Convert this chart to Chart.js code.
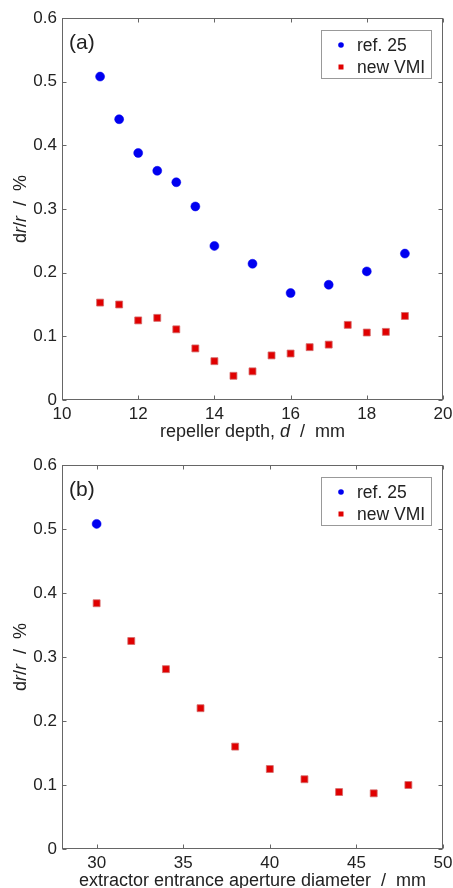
<!DOCTYPE html>
<html><head><meta charset="utf-8">
<script src="https://cdn.jsdelivr.net/npm/chart.js@4/dist/chart.umd.min.js"></script>
<style>
html,body{margin:0;padding:0;background:#fff;overflow:hidden;width:453px;height:888px}
.box{position:absolute;left:0;width:453px}
</style></head><body>
<div class="box" style="top:0;height:448px"><canvas id="c1"></canvas></div>
<div class="box" style="top:448px;height:440px"><canvas id="c2"></canvas></div>
<script>
// ---- data ----
const seriesNames = ['ref. 25', 'new VMI'];
const depthRefX = [11, 11.5, 12, 12.5, 13, 13.5, 14, 15, 16, 17, 18, 19];
const depthRefY = [0.508, 0.441, 0.388, 0.360, 0.342, 0.304, 0.242, 0.214, 0.168, 0.181, 0.202, 0.230];
const depthNewX = [11, 11.5, 12, 12.5, 13, 13.5, 14, 14.5, 15, 15.5, 16, 16.5, 17, 17.5, 18, 18.5, 19];
const depthNewY = [0.153, 0.150, 0.125, 0.129, 0.111, 0.081, 0.061, 0.038, 0.045, 0.070, 0.073, 0.083, 0.087, 0.118, 0.106, 0.107, 0.132];
const apRefX = [30];
const apRefY = [0.508];
const apNewX = [30, 32, 34, 36, 38, 40, 42, 44, 46, 48];
const apNewY = [0.384, 0.325, 0.281, 0.220, 0.160, 0.125, 0.109, 0.089, 0.087, 0.100];
const depthTicks = [10, 12, 14, 16, 18, 20];
const apTicks = [30, 35, 40, 45, 50];
const yTicks = [0, 0.1, 0.2, 0.3, 0.4, 0.5, 0.6];
const yTitle = [['d', 0], ['r', 1], ['/', 0], ['r', 1], ['  /  %', 0]];
const xTitleA = [['repeller depth, ', 0], ['d', 1], ['  /  mm', 0]];
const xTitleB = [['extractor entrance aperture diameter  /  mm', 0]];

const FONT = '"Liberation Sans", Arial, Helvetica, sans-serif';
const TXT = '#222';
const AX = '#666';
const BLUE = '#0000f0';
const RED = '#e00000';

function richWidth(ctx, parts, size) {
  let w = 0;
  for (const [t, it] of parts) { ctx.font = (it ? 'italic ' : '') + size + 'px ' + FONT; w += ctx.measureText(t).width; }
  return w;
}
function drawRich(ctx, parts, cx, cy, size, rot) {
  ctx.save();
  ctx.translate(cx, cy);
  if (rot) ctx.rotate(-Math.PI / 2);
  const w = richWidth(ctx, parts, size);
  let x = -w / 2;
  ctx.fillStyle = TXT; ctx.textBaseline = 'middle'; ctx.textAlign = 'left';
  for (const [t, it] of parts) {
    ctx.font = (it ? 'italic ' : '') + size + 'px ' + FONT;
    ctx.fillText(t, x, 0);
    x += ctx.measureText(t).width;
  }
  ctx.restore();
}

const frame = {
  id: 'frame',
  afterDraw(chart, args, o) {
    const {ctx, chartArea: a, scales: {x, y}} = chart;
    ctx.save();
    ctx.strokeStyle = AX; ctx.lineWidth = 1;
    const L = Math.round(a.left) + 0.5, R = Math.round(a.right) - 0.5, T = Math.round(a.top) + 0.5, B = Math.round(a.bottom) - 0.5;
    ctx.strokeRect(L, T, R - L, B - T);
    ctx.beginPath();
    for (const t of x.ticks) {
      const px = Math.round(x.getPixelForValue(t.value)) + 0.5;
      ctx.moveTo(px, B); ctx.lineTo(px, B - 4);
      ctx.moveTo(px, T); ctx.lineTo(px, T + 4);
    }
    for (const t of y.ticks) {
      const py = Math.round(y.getPixelForValue(t.value)) + 0.5;
      ctx.moveTo(L, py); ctx.lineTo(L + 4, py);
      ctx.moveTo(R, py); ctx.lineTo(R - 4, py);
    }
    ctx.stroke();
    // panel label
    ctx.fillStyle = TXT; ctx.font = '21px ' + FONT; ctx.textBaseline = 'middle'; ctx.textAlign = 'left';
    ctx.fillText(o.label, a.left + 7, a.top + 25);
    // axis titles
    drawRich(ctx, o.xTitle, (a.left + a.right) / 2, a.bottom + 32, 18, false);
    drawRich(ctx, yTitle, 21, (a.top + a.bottom) / 2, 18, true);
    // legend
    const bx = a.right - 122, by = a.top + 12, bw = 110, bh = 48;
    ctx.fillStyle = '#fff'; ctx.fillRect(bx, by, bw, bh);
    ctx.strokeStyle = '#999'; ctx.strokeRect(Math.round(bx) + 0.5, Math.round(by) + 0.5, bw, bh);
    chart.data.datasets.forEach((ds, i) => {
      const yy = by + 15 + i * 22;
      ctx.fillStyle = ds.backgroundColor;
      if (ds.pointStyle === 'circle') { ctx.beginPath(); ctx.arc(bx + 20, yy, 2.8, 0, Math.PI * 2); ctx.fill(); }
      else ctx.fillRect(bx + 17.5, yy - 2.5, 5, 5);
      ctx.fillStyle = TXT; ctx.font = '17.5px ' + FONT;
      ctx.fillText(ds.label, bx + 36, yy + 1);
    });
    ctx.restore();
  }
};

function makeChart(id, rx, ry, nx, ny, xmin, xmax, xticks, xTitle, label, padTop, xH) {
  const pts = (xs, ys) => xs.map((v, i) => ({x: v, y: ys[i]}));
  return new Chart(document.getElementById(id), {
    type: 'scatter',
    data: {
      datasets: [
        {label: seriesNames[0], data: pts(rx, ry), pointStyle: 'circle', pointRadius: 4.5, backgroundColor: BLUE, borderColor: BLUE, borderWidth: 0.5},
        {label: seriesNames[1], data: pts(nx, ny), pointStyle: 'rect', pointRadius: 4.9, backgroundColor: RED, borderColor: '#d46a6a', borderWidth: 0.8}
      ]
    },
    options: {
      responsive: true, maintainAspectRatio: false, animation: false,
      layout: {padding: {top: padTop, right: 10, left: 0, bottom: 0}},
      plugins: {legend: {display: false}, tooltip: {enabled: false}, frame: {label: label, xTitle: xTitle}},
      scales: {
        x: {
          type: 'linear', min: xmin, max: xmax,
          afterBuildTicks: s => { s.ticks = xticks.map(v => ({value: v})); },
          afterFit: s => { s.height = xH; s.paddingLeft = 0; s.paddingRight = 0; },
          grid: {display: false, drawTicks: false}, border: {display: false},
          ticks: {padding: 4, color: TXT, font: {family: FONT, size: 17}, maxRotation: 0, autoSkip: false}
        },
        y: {
          type: 'linear', min: 0, max: 0.6,
          afterBuildTicks: s => { s.ticks = yTicks.map(v => ({value: v})); },
          afterFit: s => { s.width = 62; s.paddingTop = 0; s.paddingBottom = 0; },
          grid: {display: false, drawTicks: false}, border: {display: false},
          ticks: {padding: 5, color: TXT, font: {family: FONT, size: 17}, autoSkip: false}
        }
      }
    },
    plugins: [frame]
  });
}

makeChart('c1', depthRefX, depthRefY, depthNewX, depthNewY, 10, 20, depthTicks, xTitleA, '(a)', 18, 48);
makeChart('c2', apRefX, apRefY, apNewX, apNewY, 28, 50, apTicks, xTitleB, '(b)', 17, 39);
</script>
</body></html>
